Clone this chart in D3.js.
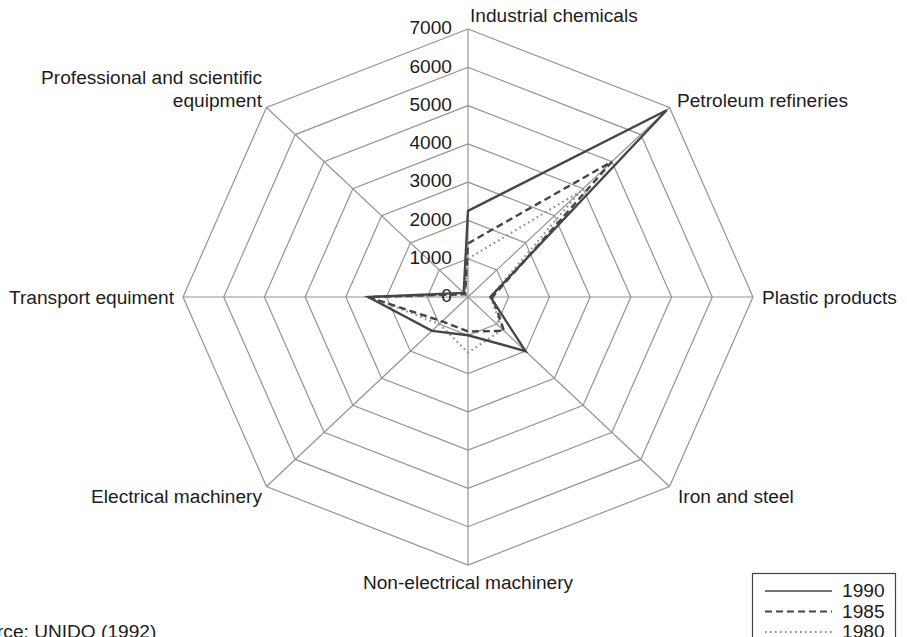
<!DOCTYPE html>
<html>
<head>
<meta charset="utf-8">
<script src="https://cdn.jsdelivr.net/npm/d3@7"></script>
<style>
  html, body { margin: 0; padding: 0; background: #fff; }
  svg { display: block; }
  text { font-family: "Liberation Sans", Arial, sans-serif; fill: #1c1c1c; }
</style>
</head>
<body>
<svg id="chart" width="907" height="637"></svg>
<script>
// ---- data ----
const categories = [
  "Industrial chemicals",
  "Petroleum refineries",
  "Plastic products",
  "Iron and steel",
  "Non-electrical machinery",
  "Electrical machinery",
  "Transport equiment",
  "Professional and scientific equipment"
];
const years = ["1990", "1985", "1980"];
const values1990 = [2250, 6900, 550, 2000, 1000, 1250, 2450, 150];
const values1985 = [1400, 5000, 600, 1250, 900, 900, 2450, 100];
const values1980 = [1000, 3900, 550, 1200, 1450, 1000, 2400, 100];
const tickValues = [0, 1000, 2000, 3000, 4000, 5000, 6000, 7000];
const sourceText = "Source: UNIDO (1992)";

// ---- layout ----
const svg = d3.select("#chart");
const cx = 468, cy = 297;
const rX = 285, rY = 268;
const fs = 18.2, sx = 1.05;

const rScale = d3.scaleLinear().domain([0, 7000]).range([0, 1]);
const angle = d3.scaleLinear().domain([0, categories.length]).range([0, 2 * Math.PI]);

function pt(i, v) {
  const a = angle(i), r = rScale(v);
  return [cx + rX * r * Math.sin(a), cy - rY * r * Math.cos(a)];
}

const gridColor = "#949494";
const g = svg.append("g");

// rings
const ringLine = d3.line();
tickValues.filter(t => t > 0).forEach(t => {
  const pts = categories.map((c, i) => pt(i, t));
  pts.push(pts[0]);
  g.append("path").attr("d", ringLine(pts))
    .attr("fill", "none").attr("stroke", gridColor).attr("stroke-width", 1.2);
});
// spokes
categories.forEach((c, i) => {
  const p = pt(i, 7000);
  g.append("line").attr("x1", cx).attr("y1", cy).attr("x2", p[0]).attr("y2", p[1])
    .attr("stroke", gridColor).attr("stroke-width", 1.2);
});

function addText(x, y, str, anchor) {
  return svg.append("text")
    .attr("transform", `translate(${x},${y}) scale(${sx},1)`)
    .attr("text-anchor", anchor)
    .attr("dominant-baseline", "central")
    .attr("font-size", fs)
    .text(str);
}

// tick labels
tickValues.forEach(t => {
  const p = pt(0, t);
  addText(452, p[1] - 1, String(t), "end");
});

// series
const series = [
  { year: years[0], values: values1990, color: "#464646", width: 2.4, dash: null },
  { year: years[1], values: values1985, color: "#464646", width: 2.4, dash: "7,4" },
  { year: years[2], values: values1980, color: "#8c8c8c", width: 2.2, dash: "1.6,3.4" }
];
const radarLine = d3.line().curve(d3.curveLinearClosed);
series.slice().reverse().forEach(s => {
  const pts = s.values.map((v, i) => pt(i, v));
  svg.append("path").attr("d", radarLine(pts))
    .attr("fill", "none").attr("stroke", s.color).attr("stroke-width", s.width)
    .attr("stroke-dasharray", s.dash).attr("stroke-linejoin", "miter");
});

// category labels
const labelPos = [
  { x: 470, y: 16, a: "start" },
  { x: 677, y: 101, a: "start" },
  { x: 762, y: 298, a: "start" },
  { x: 678, y: 497, a: "start" },
  { x: 468, y: 583, a: "middle" },
  { x: 262, y: 497, a: "end" },
  { x: 174, y: 298, a: "end" },
  { x: 262, y: 78, a: "end" }
];
categories.forEach((c, i) => {
  const lp = labelPos[i];
  if (i === 7) {
    addText(lp.x, lp.y, "Professional and scientific", "end");
    addText(lp.x, lp.y + 23, "equipment", "end");
  } else {
    addText(lp.x, lp.y, c, lp.a);
  }
});

// legend
svg.append("rect").attr("x", 752.5).attr("y", 573.5).attr("width", 143).attr("height", 80)
  .attr("fill", "#fff").attr("stroke", "#444").attr("stroke-width", 1.2);
series.forEach((s, k) => {
  const y = 591 + k * 20.5;
  svg.append("line").attr("x1", 765).attr("x2", 832).attr("y1", y).attr("y2", y)
    .attr("stroke", s.color).attr("stroke-width", s.dash ? 2 : 1.6)
    .attr("stroke-dasharray", s.dash);
  addText(842, y, s.year, "start");
});

// source (cut off at the left edge, as in the reference)
addText(-37, 632, sourceText, "start");
</script>
</body>
</html>
